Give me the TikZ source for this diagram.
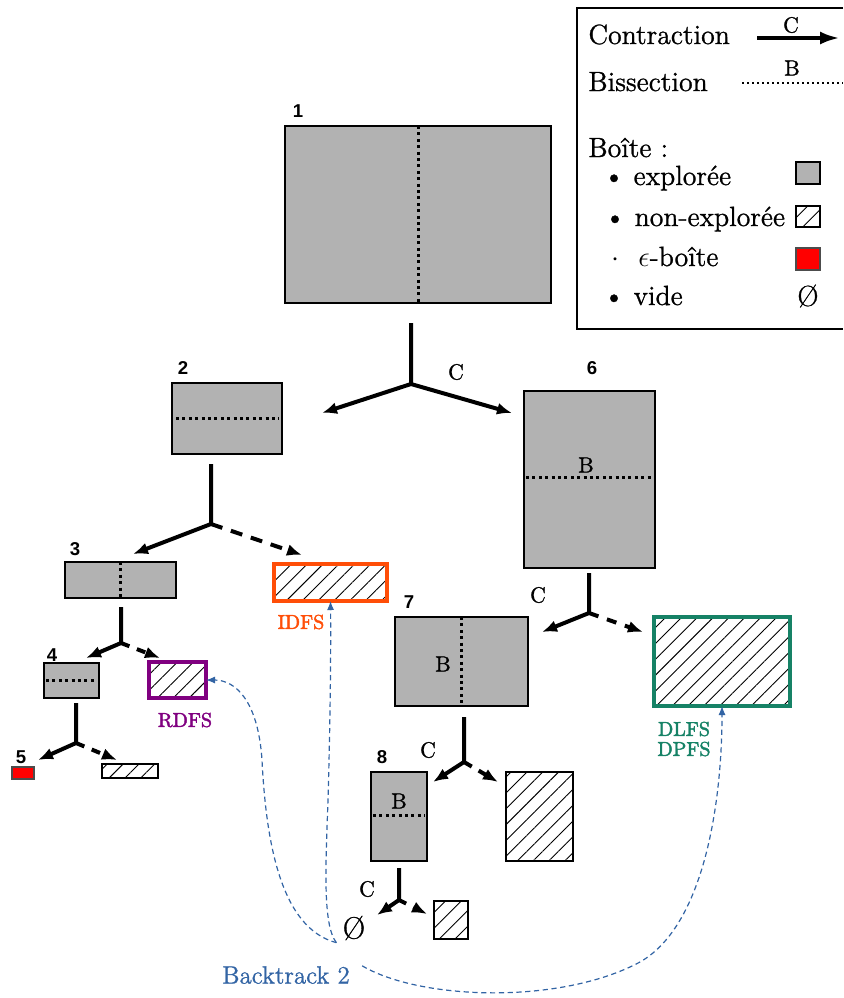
\documentclass[tikz,border=0pt]{standalone}
\usepackage{fontspec}
\newfontfamily\numfont{Liberation Sans}
\newfontfamily\heavyrm{Latin Modern Roman}[FakeBold=1]
\newfontfamily\labelrm{Latin Modern Roman}[FakeBold=2.2]
\usepackage{tikz}
\usetikzlibrary{
    arrows.meta,
    patterns.meta,
    calc
}
\definecolor{boxgray}{RGB}{178,178,178}
\definecolor{idfscol}{RGB}{255,78,8}
\definecolor{rdfscol}{RGB}{128,0,128}
\definecolor{dlfscol}{RGB}{22,130,102}
\definecolor{btblue}{RGB}{50,100,164}
\tikzset{
    % Boxes
    explored/.style={
        rectangle,
        draw=black,
        line width=1pt,
        fill=boxgray,
        inner sep=0pt,
        outer sep=0pt
    },
    unexplored/.style={
        rectangle,
        draw=black,
        line width=1pt,
        pattern={Lines[angle=45, distance=5.6pt, line width=0.45pt]},
        inner sep=0pt,
        outer sep=0pt
    },
    epsbox/.style={
        rectangle,
        draw=black!70,
        line width=0.6pt,
        fill=red,
        inner sep=0pt,
        outer sep=0pt
    },
    % Bisection
    bisect/.style={
        line width=1.5pt,
        dash pattern=on 1.5pt off 1.7pt
    },
    % Contraction arrows
    contr/.style={
        -{Latex[length=7.5pt, width=6pt]},
        line width=2pt
    },
    contrdash/.style={
        contr,
        dash pattern=on 6pt off 4.5pt
    },
    % Backtracking
    backtrack/.style={
        -{Latex[length=4.5pt, width=3.5pt]},
        draw=btblue,
        line width=0.6pt,
        dash pattern=on 2.6pt off 1.8pt
    },
    % Labels
    boxnum/.style={
        font=\numfont\bfseries\fontsize{9.3}{10}\selectfont,
        inner sep=0pt
    },
    oplabel/.style={
        font=\heavyrm\fontsize{11}{13}\selectfont,
        inner sep=0pt
    },
    legendtext/.style={
        font=\heavyrm\fontsize{13.9}{16}\selectfont,
        anchor=base west,
        inner sep=0pt
    },
    stratlabel/.style={
        font=\labelrm\fontsize{10}{10}\selectfont,
        align=center,
        inner sep=0pt
    }
}
\begin{document}
\begin{tikzpicture}[x=0.5pt, y=-0.5pt]
    \useasboundingbox (0,0) rectangle (843,998);

    % Legend
    \draw[line width=1pt] (843,8) -- (577,8) -- (577,329) -- (843,329);
    \node[legendtext] (lgcontr) at (588,44) {Contraction};
    \coordinate (lgca) at (757,38);
    \coordinate (lgcb) at (840,38);
    \draw[-{Latex[length=10pt, width=6.5pt]}, line width=2pt] (lgca) -- (lgcb);
    \node[oplabel] (lgC) at (791,25) {C};
    \node[legendtext] (lgbis) at (588,91) {Bissection};
    \coordinate (lgba) at (742,83);
    \coordinate (lgbb) at (843,83);
    \draw[line width=1.1pt, dash pattern=on 1.1pt off 1.4pt] (lgba) -- (lgbb);
    \node[oplabel] (lgB) at (792,68) {B};
    \node[legendtext] (lgboite) at (588,157) {Boîte :};
    \node[legendtext] (lgexp) at (603,185) {\textbullet\ explorée};
    \node[legendtext] (lgnonexp) at (604,226) {\textbullet\ non-explorée};
    \node[legendtext] (lgeps) at (611,266) {$\cdot$\hspace{0.68em}$\epsilon$-boîte};
    \node[legendtext] (lgvide) at (603,305) {\textbullet\ vide};
    \node[explored, minimum width=12pt, minimum height=11pt] (lgsqexp) at (808,173) {};
    \node[unexplored, minimum width=12pt, minimum height=10.5pt] (lgsqnon) at (808,216.5) {};
    \node[epsbox, minimum width=12pt, minimum height=11pt] (lgsqeps) at (808,259) {};
    \node[font=\heavyrm\fontsize{14.5}{16}\selectfont, inner sep=0pt] (lgempty) at (808,296) {\O};

    % Box 1
    \node[explored, minimum width=133pt, minimum height=88.5pt] (box1) at (418,214.5) {};
    \draw[bisect] (box1.north) -- (box1.south);
    \node[boxnum] (n1) at (298,111) {1};

    % Contraction of 1
    \coordinate (t1) at (411,323);
    \coordinate (j1) at (411,384);
    \coordinate (j1l) at (322,413);
    \coordinate (j1r) at (512,413);
    \draw[contr] (t1) -- (j1) -- (j1l);
    \draw[contr] (j1) -- (j1r);
    \node[oplabel] (c1) at (456,372) {C};

    % Box 2
    \node[explored, minimum width=55pt, minimum height=35.5pt] (box2) at (227,418.5) {};
    \draw[bisect] ($(box2.west)+(4,0)$) -- ($(box2.east)+(-3,0)$);
    \node[boxnum] (n2) at (183,368) {2};

    % Box 6
    \node[explored, minimum width=65.5pt, minimum height=88.5pt] (box6) at (589.5,479.5) {};
    \draw[bisect] ($(box6.west)+(2,-2)$) -- ($(box6.east)+(0,-2)$);
    \node[oplabel] (b6) at (586,465) {B};
    \node[boxnum] (n6) at (592,368) {6};

    % Contraction of 2
    \coordinate (t2) at (211,464);
    \coordinate (j2) at (211,524);
    \coordinate (j2l) at (133,554);
    \coordinate (j2r) at (302,555);
    \draw[contr] (t2) -- (j2) -- (j2l);
    \draw[contrdash] (j2) -- (j2r);

    % Box 3 and IDFS
    \node[explored, minimum width=55.5pt, minimum height=18pt] (box3) at (120.5,580) {};
    \draw[bisect] (box3.north) -- (box3.south);
    \node[boxnum] (n3) at (75,549) {3};
    \node[unexplored, draw=idfscol, line width=1.7pt, minimum width=56.5pt, minimum height=18.5pt] (idfs) at (330.5,582.5) {};
    \node[stratlabel, text=idfscol] (lidfs) at (301,622) {IDFS};

    % Contraction of 3
    \coordinate (t3) at (121,607);
    \coordinate (j3) at (121,643);
    \coordinate (j3l) at (86,658);
    \coordinate (j3r) at (160,658);
    \draw[contr] (t3) -- (j3) -- (j3l);
    \draw[contrdash, dash pattern=on 4.5pt off 4pt] (j3) -- (j3r);

    % Box 4 and RDFS
    \node[explored, minimum width=27.5pt, minimum height=17.5pt] (box4) at (71.5,680.5) {};
    \draw[bisect] ($(box4.west)+(2,0)$) -- ($(box4.east)+(-2,0)$);
    \node[boxnum] (n4) at (52,655) {4};
    \node[unexplored, draw=rdfscol, line width=1.7pt, minimum width=28.5pt, minimum height=18pt] (rdfs) at (177.5,680) {};
    \node[stratlabel, text=rdfscol] (lrdfs) at (185,720) {RDFS};

    % Contraction of 4
    \coordinate (t4) at (76,703);
    \coordinate (j4) at (76,743);
    \coordinate (j4l) at (38,760);
    \coordinate (j4r) at (117,760);
    \draw[contr] (t4) -- (j4) -- (j4l);
    \draw[contrdash, dash pattern=on 4.5pt off 4pt] (j4) -- (j4r);

    % Box 5 and its sibling
    \node[epsbox, minimum width=11pt, minimum height=6pt] (box5) at (23,773) {};
    \node[boxnum] (n5) at (21,757) {5};
    \node[unexplored, line width=0.8pt, minimum width=28pt, minimum height=7pt] (sib4) at (130,771) {};

    % Contraction of 6
    \coordinate (t6) at (589,573);
    \coordinate (j6) at (589,613);
    \coordinate (j6l) at (542,632);
    \coordinate (j6r) at (643,632);
    \draw[contr] (t6) -- (j6) -- (j6l);
    \draw[contrdash, dash pattern=on 5pt off 4.5pt] (j6) -- (j6r);
    \node[oplabel] (c6) at (538,595) {C};

    % Box 7 and DLFS
    \node[explored, minimum width=66.5pt, minimum height=44.5pt] (box7) at (461.5,661.5) {};
    \draw[bisect] (box7.north) -- (box7.south);
    \node[oplabel] (b7) at (443,664) {B};
    \node[boxnum] (n7) at (409,602) {7};
    \node[unexplored, draw=dlfscol, line width=1.7pt, minimum width=68pt, minimum height=44.5pt] (dlfs) at (722,661.5) {};
    \node[stratlabel, text=dlfscol] (ldlfs) at (684,739) {DLFS\\DPFS};

    % Contraction of 7
    \coordinate (t7) at (464,717);
    \coordinate (j7) at (464,762);
    \coordinate (j7l) at (433,782);
    \coordinate (j7r) at (498,782);
    \draw[contr] (t7) -- (j7) -- (j7l);
    \draw[contrdash, dash pattern=on 4.5pt off 4pt] (j7) -- (j7r);
    \node[oplabel] (c7) at (428,750) {C};

    % Box 8 and its sibling
    \node[explored, minimum width=28pt, minimum height=44.5pt] (box8) at (399,816.5) {};
    \draw[bisect] ($(box8.west)+(2,-1.5)$) -- ($(box8.east)+(-2,-1.5)$);
    \node[oplabel] (b8) at (399,801) {B};
    \node[boxnum] (n8) at (382,757) {8};
    \node[unexplored, minimum width=33.5pt, minimum height=44.5pt] (sib7) at (539.5,816.5) {};

    % Contraction of 8
    \coordinate (t8) at (399,868);
    \coordinate (j8) at (399,900);
    \coordinate (j8l) at (377,915);
    \coordinate (j8r) at (427,914);
    \draw[contr] (t8) -- (j8) -- (j8l);
    \draw[contrdash, dash pattern=on 4pt off 4pt] (j8) -- (j8r);
    \node[oplabel] (c8) at (367,889) {C};
    \node[font=\heavyrm\fontsize{15.5}{17}\selectfont, inner sep=1pt] (empty) at (354,928) {\O};
    \node[unexplored, minimum width=17pt, minimum height=19pt] (sib8) at (451,920) {};

    % Backtracking
    \node[font=\heavyrm\fontsize{12.5}{14}\selectfont, text=btblue, inner sep=0pt] (btlabel) at (286,975) {Backtrack 2};
    \draw[backtrack] ([xshift=-2pt]empty.south west) .. controls (280,928) and (266,840) .. (262,760)
        .. controls (258,700) and (235,680) .. (rdfs.east);
    \draw[backtrack] ([xshift=-2pt]empty.south west) .. controls (322,925) and (326,860) .. (328,800)
        .. controls (330,730) and (331,660) .. (idfs.south);
    \draw[backtrack] ([xshift=6pt]btlabel.north east) .. controls (420,1000) and (560,1005) .. (640,962)
        .. controls (705,925) and (722,800) .. (dlfs.south);

\end{tikzpicture}
\end{document}
